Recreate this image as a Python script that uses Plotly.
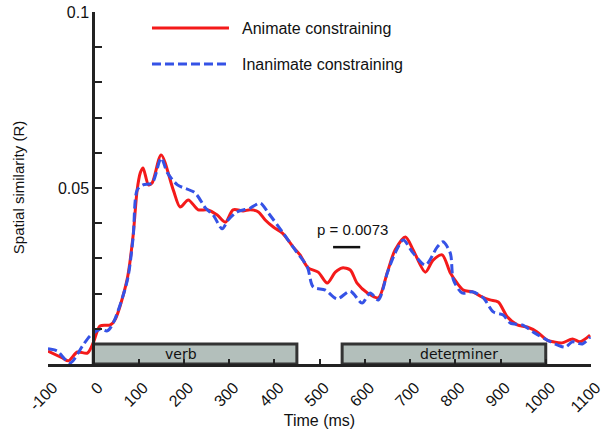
import plotly.graph_objects as go

# ---- data ----
time_animate = [-100, -68, -55, -35, -13, 0, 15, 38, 49, 75, 88, 97, 104, 110, 122, 130, 150,
                177, 192, 210, 232, 252, 274, 292, 309, 331, 347, 365, 380, 398, 418, 442,
                457, 475, 497, 517, 535, 550, 568, 583, 606, 630, 650, 667, 690, 707, 734,
                751, 771, 789, 804, 818, 838, 860, 877, 895, 915, 937, 959, 981, 1003, 1017,
                1036, 1059, 1076, 1098]
val_animate = [0.0037, 0.0017, 0.0009, 0.0034, 0.0031, 0.0060, 0.0108, 0.0111, 0.0128, 0.0241,
               0.0364, 0.0494, 0.0543, 0.0557, 0.0509, 0.0514, 0.0594, 0.0494, 0.0446, 0.0466,
               0.0438, 0.0438, 0.0423, 0.0403, 0.0438, 0.0435, 0.0438, 0.0432, 0.0409, 0.0389,
               0.0372, 0.0332, 0.0310, 0.0273, 0.0261, 0.0230, 0.0261, 0.0273, 0.0267, 0.0230,
               0.0202, 0.0188, 0.0261, 0.0324, 0.0361, 0.0324, 0.0261, 0.0295, 0.0310, 0.0259,
               0.0230, 0.0210, 0.0205, 0.0190, 0.0182, 0.0176, 0.0134, 0.0111, 0.0105, 0.0091,
               0.0068, 0.0063, 0.0060, 0.0071, 0.0063, 0.0082]

time_inanimate = [-100, -80, -51, -24, -7, 15, 31, 44, 75, 88, 97, 110, 130, 150, 164, 186, 225,
                  248, 265, 285, 298, 318, 347, 369, 387, 418, 446, 473, 486, 513, 539, 568,
                  594, 612, 630, 650, 667, 685, 707, 734, 760, 773, 789, 796, 815, 838, 862,
                  884, 906, 922, 948, 972, 1003, 1043, 1059, 1081, 1098]
val_inanimate = [0.0043, 0.0037, 0.0003, 0.0051, 0.0080, 0.0099, 0.0094, 0.0116, 0.0236, 0.0358,
                 0.0494, 0.0509, 0.0514, 0.0585, 0.0543, 0.0509, 0.0486, 0.0443, 0.0423, 0.0384,
                 0.0409, 0.0432, 0.0443, 0.0457, 0.0429, 0.0375, 0.0324, 0.0276, 0.0219, 0.0210,
                 0.0185, 0.0207, 0.0173, 0.0202, 0.0182, 0.0259, 0.0315, 0.0352, 0.0315, 0.0281,
                 0.0332, 0.0347, 0.0315, 0.0239, 0.0202, 0.0205, 0.0188, 0.0148, 0.0139, 0.0116,
                 0.0111, 0.0091, 0.0068, 0.0048, 0.0063, 0.0057, 0.0077]

series_names = ["Animate constraining", "Inanimate constraining"]

segment_labels = ["verb", "determiner"]
segment_start = [0, 550]
segment_end = [450, 1000]
segment_label_time = [195, 808]

sig_start = 530
sig_end = 590
sig_value = 0.0332
sig_text = "p = 0.0073"

x_ticks = list(range(-100, 1101, 100))
x_ticklabels = [str(v).replace("\u2212", "-") for v in x_ticks]
y_ticks = [0.01, 0.02, 0.03, 0.04, 0.05, 0.06, 0.07, 0.08, 0.09, 0.1]
y_ticklabels = ["", "", "", "", "0.05", "", "", "", "", "0.1"]

# ---- styles ----
RED = "#f41a1a"
BLUE = "#3552e6"
AX = "#222222"
BOX_FILL = "#b3bfbb"
BOX_EDGE = "#333333"
BOX_H = 0.0057
FONT = "Arial, Liberation Sans, sans-serif"
FONT2 = "DejaVu Sans, Verdana, sans-serif"

fig = go.Figure()

fig.add_trace(go.Scatter(x=time_animate, y=val_animate, mode="lines", name=series_names[0],
                         line=dict(color=RED, width=3, shape="spline", smoothing=0.8),
                         showlegend=False))
fig.add_trace(go.Scatter(x=time_inanimate, y=val_inanimate, mode="lines", name=series_names[1],
                         line=dict(color=BLUE, width=3, dash="9px,4px", shape="spline", smoothing=0.8),
                         showlegend=False))

shapes = []
annotations = []
for lab, s, e, lx in zip(segment_labels, segment_start, segment_end, segment_label_time):
    shapes.append(dict(type="rect", xref="x", yref="y", x0=s, x1=e, y0=0, y1=BOX_H,
                       fillcolor=BOX_FILL, line=dict(color=BOX_EDGE, width=3), layer="below"))
    annotations.append(dict(x=lx, y=BOX_H / 2, xref="x", yref="y", text=lab, showarrow=False,
                            font=dict(family=FONT2, size=14, color="#111111")))

# significance bar
shapes.append(dict(type="line", xref="x", yref="y", x0=sig_start, x1=sig_end, y0=sig_value,
                   y1=sig_value, line=dict(color="#111111", width=2.5)))
annotations.append(dict(x=(sig_start + sig_end) / 2 + 12, y=0.0381, xref="x", yref="y",
                        text=sig_text, showarrow=False,
                        font=dict(family=FONT, size=15, color="#111111")))

# manual legend
leg_y = [0.9545, 0.852]
leg_col = [RED, BLUE]
leg_dash = ["solid", "9px,4px"]
for name, ly, c, d in zip(series_names, leg_y, leg_col, leg_dash):
    shapes.append(dict(type="line", xref="paper", yref="paper", x0=0.1915, x1=0.3333, y0=ly, y1=ly,
                       line=dict(color=c, width=3, dash=d)))
    annotations.append(dict(x=0.3536, y=ly, xref="paper", yref="paper", text=name, showarrow=False,
                            xanchor="left", yanchor="middle",
                            font=dict(family=FONT, size=16, color="#111111")))

# y-axis title
annotations.append(dict(x=-0.055, y=0.5, xref="paper", yref="paper", text="Spatial similarity (R)",
                        textangle=-90, showarrow=False, xanchor="center", yanchor="middle",
                        font=dict(family=FONT, size=15, color="#111111")))

fig.update_layout(
    width=608, height=432,
    margin=dict(l=48, r=17, t=12, b=68),
    paper_bgcolor="white", plot_bgcolor="white",
    font=dict(family=FONT, size=16, color="#111111"),
    shapes=shapes, annotations=annotations,
    xaxis=dict(range=[-100, 1100], tickvals=x_ticks, ticktext=x_ticklabels, tickangle=-45,
               ticks="inside", ticklen=5, ticklabelshift=5, ticklabelstandoff=5,
               tickwidth=2, tickcolor=AX, showline=True, linecolor=AX, linewidth=3,
               showgrid=False, zeroline=False, automargin=False, ticklabeloverflow="allow",
               title=dict(text="Time (ms)", standoff=0, font=dict(size=16)),
               tickfont=dict(size=16)),
    yaxis=dict(range=[0, 0.1], tickvals=y_ticks, ticktext=y_ticklabels, ticks="inside", ticklen=7,
               tickwidth=2, tickcolor=AX, showline=True, linecolor=AX, linewidth=3,
               showgrid=False, zeroline=False, anchor="free", position=100 / 1200,
               automargin=False, ticklabeloverflow="allow", tickfont=dict(size=16)),
)

# remove the default 8px page margin so the figure fills the window exactly
fig.write_html("out.html", config={"displayModeBar": False},
               post_script="document.body.style.margin='0px';")
